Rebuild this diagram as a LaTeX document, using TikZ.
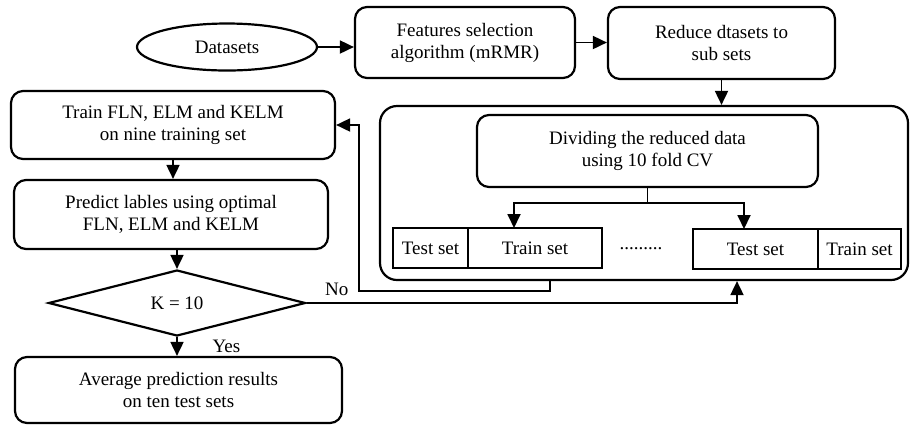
\documentclass[tikz,border=0pt]{standalone}
\usepackage{fontspec}
\setmainfont{Liberation Serif}
\usetikzlibrary{arrows.meta,shapes.geometric,positioning}

\begin{document}
\begin{tikzpicture}[
    x=0.5pt, y=-0.5pt,
    >={Triangle[length=7pt,width=6.5pt]},
    font=\fontsize{9.5}{11}\selectfont,
    proc/.style={rectangle, draw, line width=1.1pt, rounded corners=6pt,
                 align=center, inner sep=2pt},
    setbox/.style={rectangle, draw, line width=0.9pt, minimum height=20pt,
                   inner sep=2pt, outer sep=0pt},
    link/.style={->, line width=0.9pt},
  ]
  \useasboundingbox (0,0) rectangle (910,425);

  %% ===== top row: data -> mRMR -> reduced sets =====
  \node[draw, ellipse, line width=1.1pt, minimum width=90pt,
        minimum height=23.5pt] (data) at (227,47) {Datasets};
  \node[proc, minimum width=110pt, minimum height=35.5pt] (feat) at (465,42.5)
    {Features selection\\algorithm (mRMR)};
  \node[proc, minimum width=113.5pt, minimum height=36pt] (reduce) at (721.5,43)
    {Reduce dtasets to\\sub sets};

  \draw[link] (data.east) -- (data.east -| feat.west);
  \draw[link] (feat.east) -- (feat.east -| reduce.west);

  %% ===== cross validation block =====
  \node[proc, rounded corners=8.5pt, minimum width=264pt,
        minimum height=87pt] (fold) at (644,193) {};
  \node[proc, minimum width=170.5pt, minimum height=36pt] (divide) at (647.5,151)
    {Dividing the reduced data\\using 10 fold CV};

  % first and last split
  \node[setbox, minimum width=37.5pt] (testA) at (430.5,248) {Test set};
  \node[setbox, minimum width=67pt, right=0pt of testA] (trainA) {Train set};
  \node (dots) at (641,249) {.........};
  \node[setbox, minimum width=62.5pt] (testB) at (755.5,249) {Test set};
  \node[setbox, minimum width=41.5pt, right=0pt of testB] (trainB) {Train set};

  \draw[link] (reduce.south) -- (reduce.south |- fold.north);
  \coordinate (split) at (divide.south |- 0,203);
  \draw[link] (divide.south) -- (split) -| ([xshift=-10.5pt]trainA.north);
  \draw[link] (split) -| ([xshift=-5.75pt]testB.north);

  %% ===== left column: train, predict, check =====
  \node[proc, minimum width=162pt, minimum height=34pt] (train) at (173,125)
    {Train FLN, ELM and KELM\\on nine training set};
  \node[proc, minimum width=157pt, minimum height=34.5pt] (predict) at (171,214.5)
    {Predict lables using optimal\\FLN, ELM and KELM};
  \node[draw, diamond, line width=1.1pt, minimum width=128.5pt,
        minimum height=33pt, inner sep=0pt] (kcheck) at (177,303) {K = 10};
  \node[proc, minimum width=163.5pt, minimum height=33pt] (avg) at (178.5,390)
    {Average prediction results\\on ten test sets};

  \draw[link] (train.south) -- (train.south |- predict.north);
  \draw[link] (predict.south -| kcheck.north) -- (kcheck.north);
  \draw[link] (kcheck.south) -- (kcheck.south |- avg.north)
    node[midway, right=14pt] {Yes};

  %% feedback: folds -> training, K check -> next fold
  \coordinate (back) at ([xshift=11.5pt]train.east);
  \draw[link] ([xshift=-47pt]fold.south) -- ++(0,10) -| (back) -- (train.east);
  \draw[link] (kcheck.east) -| ([xshift=46.5pt]fold.south)
    node[pos=0.035, above] {No};

\end{tikzpicture}
\end{document}
